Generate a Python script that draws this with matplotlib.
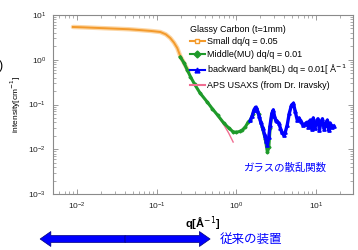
import matplotlib
matplotlib.use("Agg")
import matplotlib.pyplot as plt
from matplotlib.lines import Line2D
from matplotlib.patches import FancyArrow
from matplotlib.ticker import LogLocator

plt.rcParams['font.family'] = ['Liberation Sans', 'Noto Sans CJK JP', 'DejaVu Sans']

# ---- data ----
q_small = [0.0089, 0.012, 0.02, 0.03, 0.045, 0.062, 0.085, 0.111, 0.13, 0.148,
           0.165, 0.181, 0.198, 0.22, 0.25]
I_small = [5.4, 5.3, 5.1, 4.95, 4.8, 4.6, 4.4, 4.17, 3.7, 3.06,
           2.4, 1.83, 1.2, 0.85, 0.55]

q_mid = [0.198, 0.22, 0.242, 0.265, 0.30, 0.35, 0.43, 0.5, 0.58, 0.69, 0.8, 0.91,
         1.0, 1.1, 1.19, 1.3, 1.41, 1.5, 1.6, 1.74, 1.9, 2.1, 2.3, 2.45, 2.55, 2.65, 2.78]
I_mid = [1.15, 0.85, 0.59, 0.42, 0.28, 0.18, 0.114, 0.08, 0.058, 0.039, 0.030, 0.0245,
         0.024, 0.025, 0.027, 0.032, 0.041, 0.045, 0.06, 0.085, 0.06, 0.032, 0.017, 0.0085,
         0.011, 0.03, 0.06]

q_back = [1.50, 1.58, 1.66, 1.74, 1.82, 1.92, 2.02, 2.14, 2.26, 2.36, 2.45, 2.55, 2.65,
          2.78, 2.90, 3.00, 3.10, 3.25, 3.40, 3.55, 3.70, 3.90, 4.10, 4.35, 4.60, 4.90,
          5.20, 5.45, 5.80, 6.10, 6.40, 6.80, 7.20, 7.60, 8.0, 8.4, 8.8, 9.2, 9.6, 10.0,
          10.5, 11.0, 11.5, 12.0, 12.6, 13.2, 13.8, 14.4, 15.0, 15.8, 16.6]
I_back = [0.0447, 0.0562, 0.0759, 0.0871, 0.0759, 0.0562, 0.0398, 0.0302, 0.0209, 0.0151,
          0.0126, 0.0191, 0.0355, 0.0631, 0.0759, 0.0562, 0.0447, 0.0417, 0.0380, 0.0302,
          0.0240, 0.0209, 0.0240, 0.0355, 0.0631, 0.0955, 0.107, 0.0708, 0.0447, 0.0501,
          0.0417, 0.0347, 0.0363, 0.0398, 0.0316, 0.0447, 0.0282, 0.0501, 0.0302, 0.0380,
          0.0479, 0.0263, 0.0398, 0.0479, 0.0282, 0.0355, 0.0447, 0.0263, 0.0380, 0.0316,
          0.0331]

q_aps = [0.0089, 0.012, 0.02, 0.03, 0.045, 0.062, 0.085, 0.111, 0.13, 0.148, 0.165,
         0.181, 0.198, 0.22, 0.242, 0.265, 0.30, 0.35, 0.43, 0.5, 0.58, 0.69, 0.8, 0.91]
I_aps = [5.4, 5.3, 5.1, 4.95, 4.8, 4.6, 4.4, 4.17, 3.7, 3.06, 2.4,
         1.83, 1.2, 0.85, 0.59, 0.42, 0.28, 0.18, 0.114, 0.08, 0.056, 0.036, 0.023, 0.0145]

labels = ["Small dq/q = 0.05", "Middle(MU) dq/q = 0.01",
          "backward bank(BL) dq = 0.01[ Å$^{-1}$", "APS USAXS (from Dr. Iravsky)"]
legend_title = "Glassy Carbon (t=1mm)"

c_orange = '#f39a2c'
c_green = '#1e9a2a'
c_blue = '#0000ff'
c_pink = '#f06e92'

fig = plt.figure(figsize=(3.58, 2.5), dpi=100)
ax = fig.add_axes([0.148, 0.224, 0.838, 0.716])

ax.plot(q_aps, I_aps, color=c_pink, lw=1.0, zorder=2)
ax.plot(q_small, I_small, color='#fcd6a4', lw=3.2, solid_capstyle='round', zorder=3)
ax.plot(q_small, I_small, color=c_orange, lw=1.4, zorder=4)
ax.plot(q_mid, I_mid, color=c_green, lw=2.2, marker='D', ms=1.5, zorder=5)
ax.plot(q_back, I_back, color=c_blue, lw=2.4, marker='^', ms=2.4, zorder=6)

ax.set_xscale('log')
ax.set_yscale('log')
ax.set_xlim(0.005, 29)
ax.set_ylim(1e-3, 10)

for sp in ax.spines.values():
    sp.set_color('#8a8a8a')
    sp.set_linewidth(0.8)
ax.yaxis.set_minor_locator(LogLocator(base=10, subs=range(2, 10), numticks=20))
ax.xaxis.set_minor_locator(LogLocator(base=10, subs=range(2, 10), numticks=20))
ax.tick_params(which='both', direction='in', top=True, right=True, colors='#8a8a8a',
               labelcolor='#222222', labelsize=6)
ax.tick_params(which='major', length=3.5, width=0.6, pad=5)
ax.tick_params(which='minor', length=2, width=0.5)

ax.set_xlabel("q[Å$^{-1}$]", fontsize=8, fontweight='bold', labelpad=2)
ax.set_ylabel("intensity[cm$^{-1}$]", fontsize=6, labelpad=4)

handles = [
    Line2D([], [], color=c_orange, lw=1.5, marker='s', mfc='white', mec=c_orange, ms=3.5),
    Line2D([], [], color=c_green, lw=1.5, marker='D', ms=3.5),
    Line2D([], [], color=c_blue, lw=1.5, marker='^', ms=3.5),
    Line2D([], [], color=c_pink, lw=1.5),
]
leg = ax.legend(handles, labels, title=legend_title, loc='upper left',
                bbox_to_anchor=(0.445, 0.965), frameon=False, fontsize=6.5,
                title_fontsize=6.5, handlelength=1.6, handletextpad=0.3,
                labelspacing=0.4, borderaxespad=0)
leg._legend_box.align = "left"

ax.text(0.633, 0.145, "ガラスの散乱関数", transform=ax.transAxes, color=c_blue,
        fontsize=7.5, va='center', ha='left', family=['Noto Sans CJK JP', 'DejaVu Sans'])

fig.text(-0.004, 0.735, ")", fontsize=9, va='center', ha='left')

# double-headed arrow below the axis
y0 = 0.044
xl, xr = 0.112, 0.587
xm = (xl + xr) / 2
for tip in (xl, xr):
    fig.patches.append(FancyArrow(xm, y0, tip - xm, 0, width=0.028, head_width=0.06,
                                  head_length=0.03, length_includes_head=True,
                                  transform=fig.transFigure, facecolor=c_blue,
                                  edgecolor='#00007a', lw=0.5))
fig.text(0.615, y0, "従来の装置", color=c_blue, fontsize=9, va='center', ha='left',
         family=['Noto Sans CJK JP', 'DejaVu Sans'])

fig.savefig("out.png", dpi=100)
